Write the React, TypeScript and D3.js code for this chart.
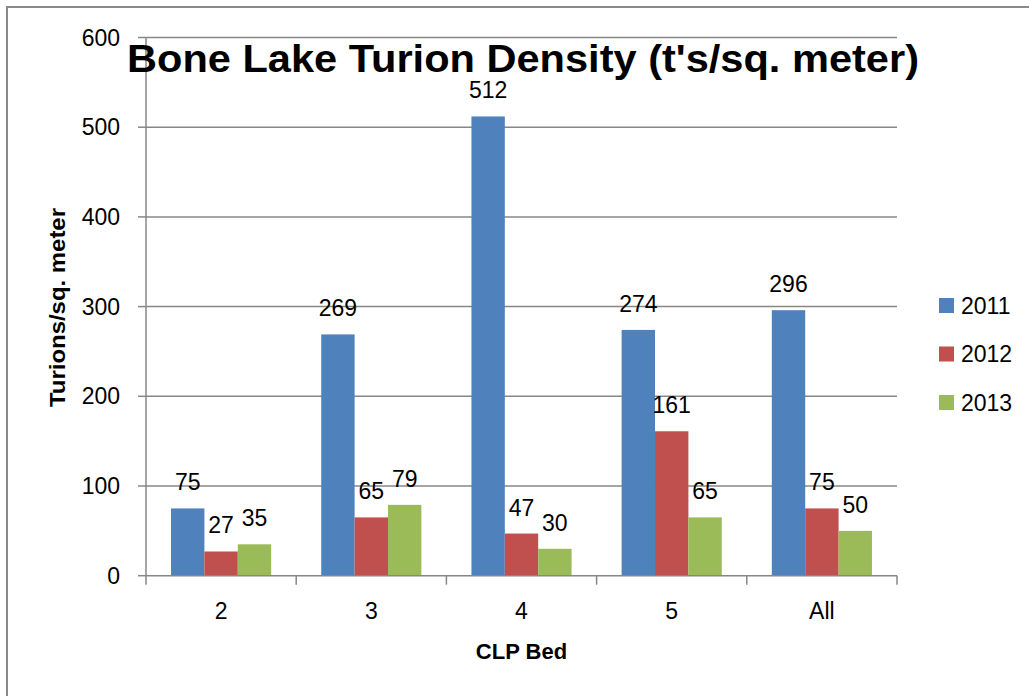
import React from "react";
import * as d3 from "d3";

const categories = ["2", "3", "4", "5", "All"];
const seriesNames = ["2011", "2012", "2013"];
const values2011 = [75, 269, 512, 274, 296];
const values2012 = [27, 65, 47, 161, 75];
const values2013 = [35, 79, 30, 65, 50];
const yTicks = [0, 100, 200, 300, 400, 500, 600];
const colors = ["#4F81BD", "#C0504D", "#9BBB59"];

const W = 1029;
const H = 696;
const font = "'Liberation Sans', Arial, sans-serif";

const App = () => {
  const series = [values2011, values2012, values2013];

  // plot area
  const left = 146;
  const right = 897;
  const top = 37.5;
  const bottom = 575.7;

  const x = d3.scaleBand().domain(categories).range([left, right]).padding(0);
  const bw = x.bandwidth();
  const inner = d3
    .scaleBand()
    .domain(seriesNames)
    .range([bw / 6, bw - bw / 6])
    .padding(0);
  const y = d3.scaleLinear().domain([0, 600]).range([bottom, top]);

  const grid = "#878787";

  return (
    <svg
      width={W}
      height={H}
      style={{ position: "absolute", left: 0, top: 0, background: "#fff" }}
      fontFamily={font}
    >
      {/* outer chart frame */}
      <rect x={7} y={7} width={W + 20} height={H + 20} fill="none" stroke="#8a8a8a" strokeWidth={2} />

      {/* gridlines + y ticks */}
      {yTicks.map(t => (
        <g key={t}>
          {t > 0 && (
            <line x1={left} x2={right} y1={y(t)} y2={y(t)} stroke={grid} strokeWidth={1.5} />
          )}
          <line x1={left - 8} x2={left} y1={y(t)} y2={y(t)} stroke={grid} strokeWidth={1.5} />
          <text x={120} y={y(t) + 8} textAnchor="end" fontSize={23} fill="#000">
            {t}
          </text>
        </g>
      ))}

      {/* bars */}
      {series.map((vals, si) =>
        vals.map((v, ci) => {
          const bx = (x(categories[ci]) as number) + (inner(seriesNames[si]) as number);
          return (
            <rect
              key={`${si}-${ci}`}
              x={bx}
              y={y(v)}
              width={inner.bandwidth()}
              height={y(0) - y(v)}
              fill={colors[si]}
            />
          );
        })
      )}

      {/* data labels */}
      {series.map((vals, si) =>
        vals.map((v, ci) => {
          const cx = (x(categories[ci]) as number) + (inner(seriesNames[si]) as number) + inner.bandwidth() / 2;
          return (
            <text key={`l${si}-${ci}`} x={cx} y={y(v) - 18} textAnchor="middle" fontSize={23} fill="#000">
              {v}
            </text>
          );
        })
      )}

      {/* axes */}
      <line x1={left} x2={left} y1={top} y2={bottom} stroke={grid} strokeWidth={1.5} />
      <line x1={left} x2={right} y1={bottom} y2={bottom} stroke={grid} strokeWidth={1.5} />
      {categories.map(c => (
        <line
          key={`t${c}`}
          x1={x(c) as number}
          x2={x(c) as number}
          y1={bottom}
          y2={bottom + 9}
          stroke={grid}
          strokeWidth={1.5}
        />
      ))}
      <line x1={right} x2={right} y1={bottom} y2={bottom + 9} stroke={grid} strokeWidth={1.5} />
      {categories.map(c => (
        <text
          key={`c${c}`}
          x={(x(c) as number) + bw / 2}
          y={619}
          textAnchor="middle"
          fontSize={23}
          fill="#000"
        >
          {c}
        </text>
      ))}

      {/* axis titles */}
      <text x={(left + right) / 2} y={659} textAnchor="middle" fontSize={22} fontWeight="bold" fill="#000">
        CLP Bed
      </text>
      <text
        transform={`translate(65,${(208 + 407) / 2}) rotate(-90)`}
        textAnchor="middle"
        fontSize={22}
        fontWeight="bold"
        fill="#000"
        textLength={199}
        lengthAdjust="spacingAndGlyphs"
      >
        Turions/sq. meter
      </text>

      {/* title */}
      <text
        x={127}
        y={72}
        fontSize={38}
        fontWeight="bold"
        fill="#000"
        textLength={792}
        lengthAdjust="spacingAndGlyphs"
      >
        Bone Lake Turion Density (t's/sq. meter)
      </text>

      {/* legend */}
      {seriesNames.map((s, i) => (
        <g key={s} transform={`translate(939,${298 + i * 48.5})`}>
          <rect x={0} y={0} width={15} height={15} fill={colors[i]} />
          <text x={22} y={15.5} fontSize={23} fill="#000">
            {s}
          </text>
        </g>
      ))}
    </svg>
  );
};

export default App;
